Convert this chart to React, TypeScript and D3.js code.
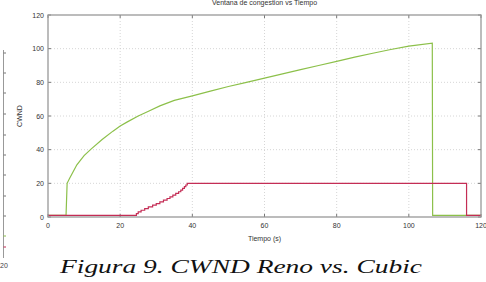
import React from 'react';
import { scaleLinear, line, curveLinear, curveStepAfter } from 'd3';

// Cubic (verde)
const cubicTimes = [0, 5.0, 5.3, 6, 8, 10, 12, 15, 18, 20, 22, 25, 28, 31, 35, 40, 45, 50, 55, 60, 65, 70, 75, 80, 85, 90, 95, 100, 106.5, 106.6, 120];
const cubicValues = [1, 1, 20, 23, 31, 36.5, 40.5, 46, 51, 54, 56.5, 60, 63, 66, 69.3, 72, 74.8, 77.5, 80, 82.5, 85, 87.5, 90, 92.5, 95, 97.3, 99.5, 101.5, 103.3, 1, 1];

// Reno (rojo), escalones
const renoTimes = [0, 24.5, 25.0, 25.8, 26.8, 27.8, 29.0, 30.0, 31.0, 32.0, 33.0, 33.8, 34.6, 35.4, 36.2, 36.8, 37.3, 37.8, 38.2, 38.6, 116, 120];
const renoValues = [1, 2, 3, 4, 5, 6, 7, 8, 9, 10, 11, 12, 13, 14, 15, 16, 17, 18, 19, 20, 1, 1];

const xTicks = [0, 20, 40, 60, 80, 100, 120];
const yTicks = [0, 20, 40, 60, 80, 100, 120];

// trozo de la figura anterior visible a la izquierda
const leftTicks = [53, 73, 93, 114, 135, 155, 175, 196, 216];

const title = 'Ventana de congestion vs Tiempo';
const xLabel = 'Tiempo (s)';
const yLabel = 'CWND';
const caption = 'Figura 9. CWND Reno vs. Cubic';

const W = 486;
const H = 282;
const left = 48;
const right = 481;
const top = 15;
const bottom = 217;

const green = '#8cc04a';
const red = '#c42d55';

export default function App() {
  const x = scaleLinear().domain([0, 120]).range([left, right]);
  const y = scaleLinear().domain([0, 120]).range([bottom, top]);

  const cubicLine = line<number>()
    .x((_, i) => x(cubicTimes[i]))
    .y(d => y(d))
    .curve(curveLinear);
  const renoLine = line<number>()
    .x((_, i) => x(renoTimes[i]))
    .y(d => y(d))
    .curve(curveStepAfter);

  const font = "'Liberation Sans', Arial, sans-serif";
  const serif = "'Liberation Serif', 'Times New Roman', Times, serif";

  return (
    <svg width={W} height={H} style={{ position: 'absolute', left: 0, top: 0, background: '#fff' }}>
      {/* figura anterior recortada */}
      <line x1={3.5} x2={3.5} y1={50} y2={258} stroke="#999" strokeWidth={1} />
      {leftTicks.map(t => (
        <line key={t} x1={3.5} x2={6} y1={t} y2={t} stroke="#777" strokeWidth={1} />
      ))}
      <line x1={3.5} x2={6} y1={236} y2={236} stroke={green} strokeWidth={1} />
      <line x1={3.5} x2={6} y1={247} y2={247} stroke={red} strokeWidth={1} />
      <text x={0} y={268} fontFamily={font} fontSize={7} fill="#444">20</text>

      {/* rejilla */}
      {xTicks.slice(1, -1).map(t => (
        <line key={'gx' + t} x1={x(t)} x2={x(t)} y1={top} y2={bottom} stroke="#ccc" strokeWidth={0.8} strokeDasharray="1,2" />
      ))}
      {yTicks.slice(1, -1).map(t => (
        <line key={'gy' + t} x1={left} x2={right} y1={y(t)} y2={y(t)} stroke="#ccc" strokeWidth={0.8} strokeDasharray="1,2" />
      ))}

      {/* marcas */}
      {xTicks.map(t => (
        <g key={'tx' + t}>
          <line x1={x(t)} x2={x(t)} y1={bottom} y2={bottom - 3} stroke="#777" />
          <line x1={x(t)} x2={x(t)} y1={top} y2={top + 3} stroke="#777" />
          <text x={x(t)} y={bottom + 11} textAnchor="middle" fontFamily={font} fontSize={7} fill="#333">{t}</text>
        </g>
      ))}
      {yTicks.map(t => (
        <g key={'ty' + t}>
          <line x1={left} x2={left + 3} y1={y(t)} y2={y(t)} stroke="#777" />
          <line x1={right} x2={right - 3} y1={y(t)} y2={y(t)} stroke="#777" />
          <text x={left - 4} y={y(t) + 2.5} textAnchor="end" fontFamily={font} fontSize={7} fill="#333">{t}</text>
        </g>
      ))}

      {/* series */}
      <path d={cubicLine(cubicValues) || ''} fill="none" stroke={green} strokeWidth={1.2} />
      <path d={renoLine(renoValues) || ''} fill="none" stroke={red} strokeWidth={1.2} />

      {/* marco */}
      <rect x={left} y={top} width={right - left} height={bottom - top} fill="none" stroke="#999" strokeWidth={1.3} />

      <text x={(left + right) / 2} y={5} textAnchor="middle" fontFamily={font} fontSize={7} fill="#333">{title}</text>
      <text x={(left + right) / 2} y={241} textAnchor="middle" fontFamily={font} fontSize={7} fill="#333">{xLabel}</text>
      <text transform={`translate(22,116) rotate(-90)`} textAnchor="middle" fontFamily={font} fontSize={7} fill="#333">{yLabel}</text>

      <text x={60} y={273} fontFamily={serif} fontStyle="italic" fontSize={19}
        textLength={362} lengthAdjust="spacingAndGlyphs" fill="#111">{caption}</text>
    </svg>
  );
}
